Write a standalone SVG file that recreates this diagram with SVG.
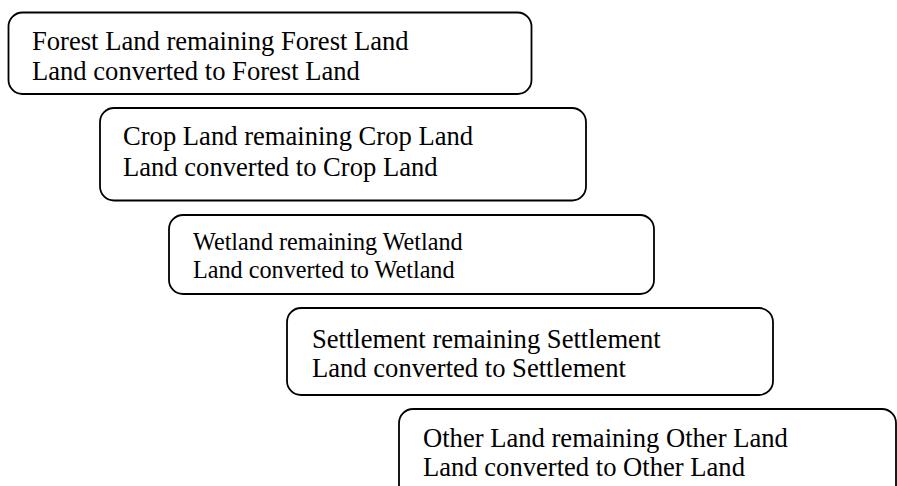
<svg xmlns="http://www.w3.org/2000/svg" width="897" height="486" viewBox="0 0 897 486">
<style>
.box{fill:#fff;stroke:#000;stroke-width:1.8}
.t{font-family:"Liberation Serif","Times New Roman",serif;font-size:26.6px;fill:#000}
.ts{font-family:"Liberation Serif","Times New Roman",serif;font-size:24.2px;fill:#000}
</style>
<rect width="897" height="486" fill="#fff"/>
<g id="forest">
<rect class="box" x="8.5" y="12.5" width="523" height="81.5" rx="14"/>
<text class="t" x="32" y="50">Forest Land remaining Forest Land</text>
<text class="t" x="32" y="80">Land converted to Forest Land</text>
</g>
<g id="crop">
<rect class="box" x="100" y="108" width="486" height="92.5" rx="14"/>
<text class="t" x="123" y="145">Crop Land remaining Crop Land</text>
<text class="t" x="123" y="176">Land converted to Crop Land</text>
</g>
<g id="wetland">
<rect class="box" x="169" y="215" width="485" height="79" rx="14"/>
<text class="ts" x="193" y="250">Wetland remaining Wetland</text>
<text class="ts" x="193" y="278">Land converted to Wetland</text>
</g>
<g id="settlement">
<rect class="box" x="287" y="308" width="486" height="87" rx="14"/>
<text class="t" x="312" y="348">Settlement remaining Settlement</text>
<text class="t" x="312" y="377">Land converted to Settlement</text>
</g>
<g id="other">
<rect class="box" x="399" y="409" width="497" height="110" rx="14"/>
<text class="t" x="423" y="447">Other Land remaining Other Land</text>
<text class="t" x="423" y="476">Land converted to Other Land</text>
</g>
<g id="connectors"></g>
</svg>
